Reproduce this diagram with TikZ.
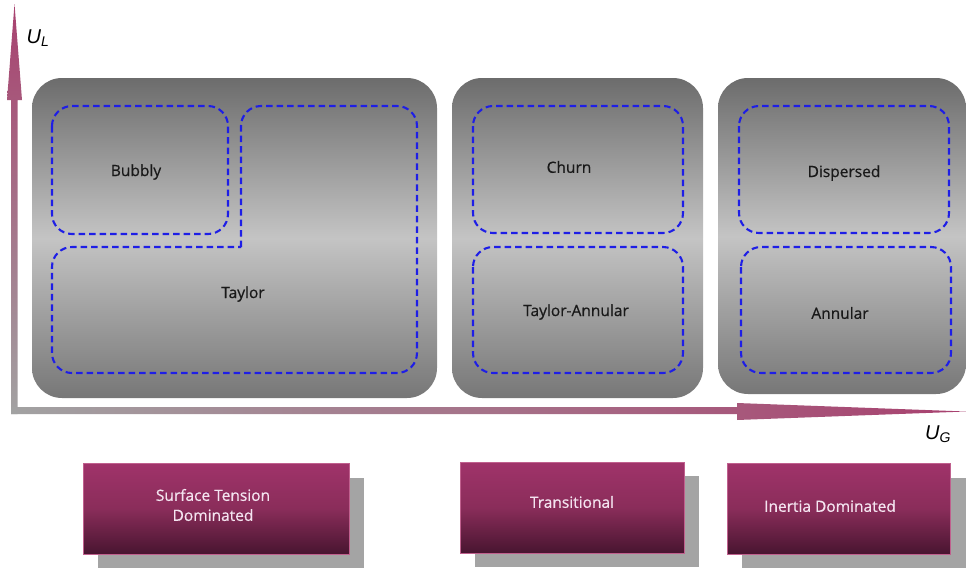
\documentclass[tikz,border=0pt]{standalone}
\usepackage{fontspec}
\setmainfont{Open Sans}
\newfontfamily\axisfont{Liberation Sans}
\newfontfamily\labelfont[FakeBold=0.6]{Open Sans}
\definecolor{boxdark}{HTML}{6C6C6C}
\definecolor{boxlight}{HTML}{C4C4C4}
\definecolor{boxbot}{HTML}{777777}
\definecolor{dashblue}{HTML}{1E1EE6}
\definecolor{magtop}{HTML}{A0336A}
\definecolor{magmid}{HTML}{8A2D5A}
\definecolor{magbot}{HTML}{481530}
\definecolor{magedge}{HTML}{C0608E}
\definecolor{arrowpink}{HTML}{A8416F}
\definecolor{arrowgray}{HTML}{A2A2A2}
\definecolor{shadowgray}{HTML}{A4A4A4}
\definecolor{labeltext}{HTML}{F4E4F0}
\begin{document}
\begin{tikzpicture}[x=1pt,y=-1pt,
  bigbox/.style={rounded corners=30pt, top color=boxdark, bottom color=boxbot, middle color=boxlight},
  region/.style={draw=dashblue, line width=2.1pt, dash pattern=on 6.5pt off 4pt, rounded corners=20pt},
  regimelabel/.style={font=\labelfont\fontsize{15.5}{18}\selectfont, text=black!90},
  catbox/.style={top color=magtop, bottom color=magbot, middle color=magmid, draw=magedge, line width=0.6pt},
  shadowbox/.style={fill=shadowgray},
  cattext/.style={font=\labelfont\fontsize{15.5}{20}\selectfont, text=labeltext, align=center},
  axislabel/.style={font=\axisfont\itshape\fontsize{20}{22}\selectfont}]
\useasboundingbox (0,0) rectangle (966,568);
% axes
\shade[top color=arrowpink, bottom color=arrowgray]
  (11,414) -- (11,100) -- (7,100) -- (14.5,4) -- (22,100) -- (17.5,100) -- (17.5,414) -- cycle;
\shade[left color=arrowgray, right color=arrowpink]
  (11,407) -- (737,407) -- (737,403) -- (966,411.5) -- (737,420) -- (737,414) -- (11,414) -- cycle;
\node[axislabel] (ul) at (38,38) {U\textsubscript{L}};
\node[axislabel] (ug) at (938,434) {U\textsubscript{G}};
% big boxes
\shade[bigbox] (32,78) rectangle (437,398);
\shade[bigbox] (452,78) rectangle (703,398);
\shade[bigbox] (718,78) rectangle (966,394);
% regions
\draw[region] (52,106) rectangle (228,234);
\draw[region] (241,247) -- (241,106) -- (417,106) -- (417,373) -- (52,373) -- (52,247) -- (241,247);
\draw[region] (473,106) rectangle (683,233);
\draw[region] (473,247) rectangle (683,373);
\draw[region] (739,106) rectangle (949,233);
\draw[region] (741,247) rectangle (951,373);
\node[regimelabel] (bubbly) at (136,172) {Bubbly};
\node[regimelabel] (taylor) at (243,294) {Taylor};
\node[regimelabel] (churn) at (569,167) {Churn};
\node[regimelabel] (taylorann) at (576,312) {Taylor-Annular};
\node[regimelabel] (dispersed) at (844,173) {Dispersed};
\node[regimelabel] (annular) at (840,313) {Annular};
% bottom category boxes
\fill[shadowbox] (98,478) rectangle (364,568);
\fill[shadowbox] (475,476) rectangle (699,567);
\fill[shadowbox] (742,478) rectangle (966,568);
\shade[catbox] (83,463) rectangle (349,554);
\shade[catbox] (460,462) rectangle (684,553);
\shade[catbox] (727,463) rectangle (950,554);
\node[cattext] (surface) at (213,505) {Surface Tension\\Dominated};
\node[cattext] (transitional) at (572,502) {Transitional};
\node[cattext] (inertia) at (830,506) {Inertia Dominated};
\end{tikzpicture}
\end{document}
